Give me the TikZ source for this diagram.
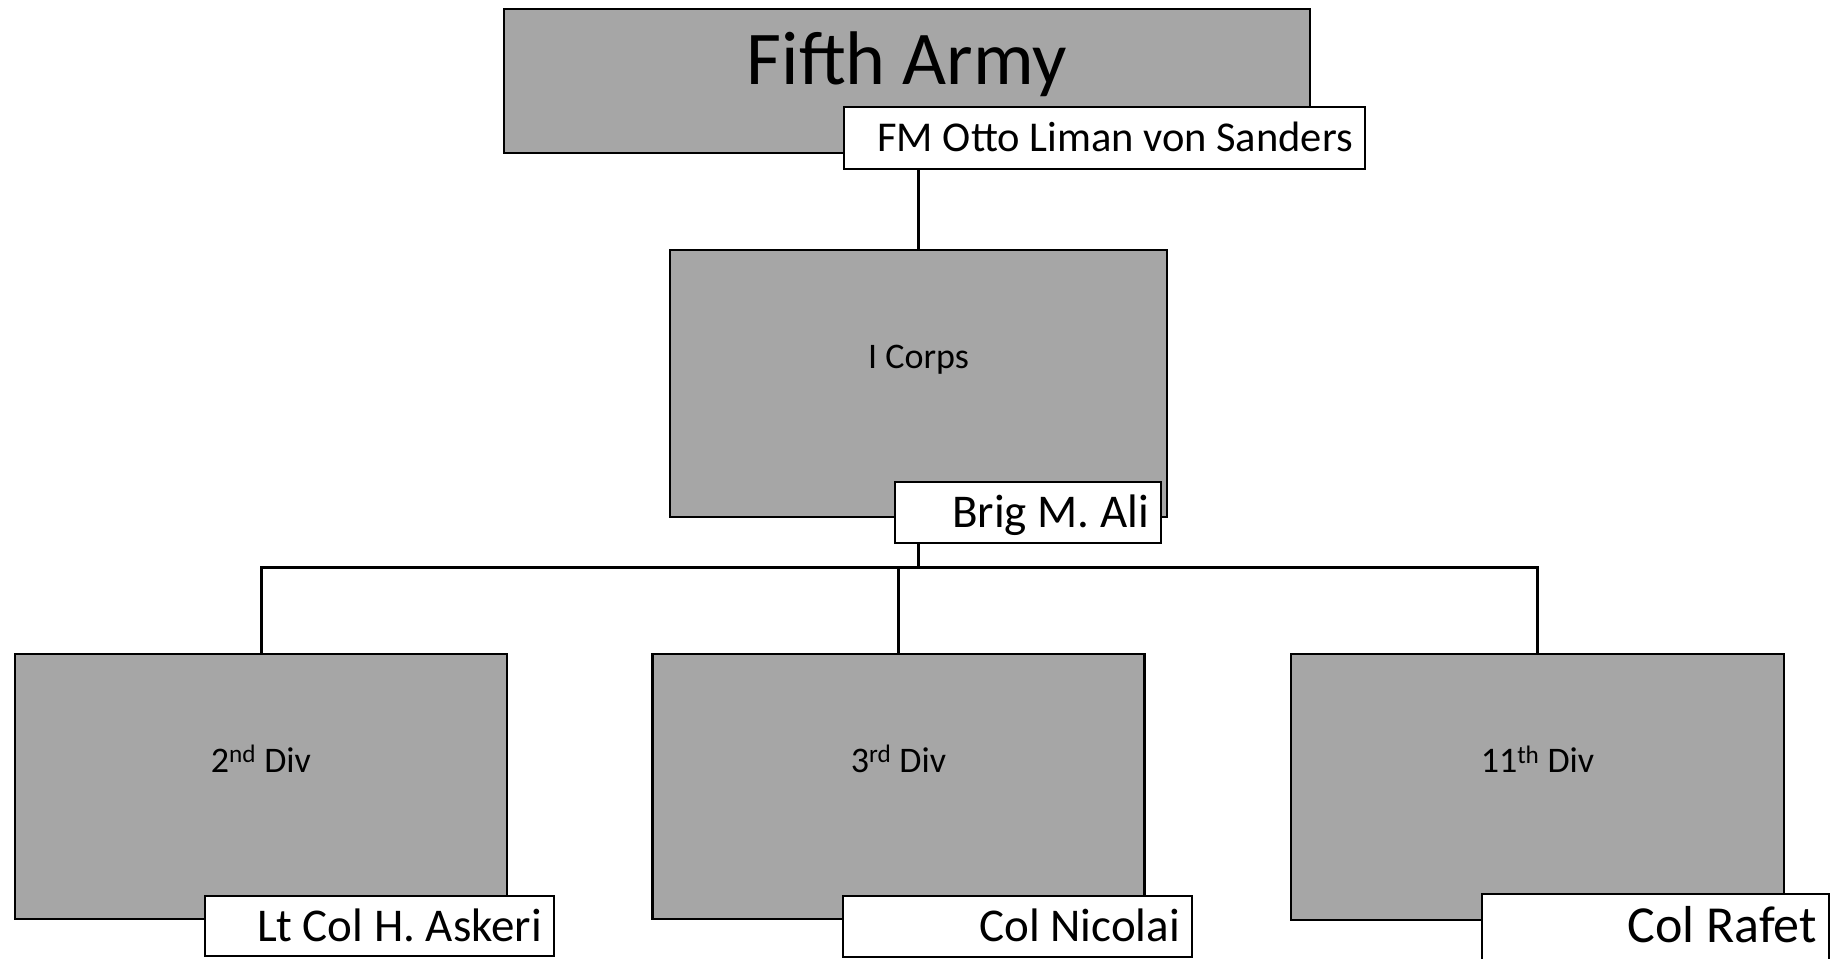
\documentclass[tikz,border=0pt]{standalone}
\usepackage{fontspec}
\setmainfont{Carlito}
\usetikzlibrary{backgrounds}
\definecolor{boxgray}{HTML}{A6A6A6}
\frenchspacing
\begin{document}
\begin{tikzpicture}[x=1pt,y=-1pt,
  graybox/.style={draw=black, line width=2.6pt, fill=boxgray, inner sep=0pt, align=center},
  namebox/.style={draw=black, line width=2.4pt, fill=white, inner ysep=0pt, inner xsep=12pt, align=flush right, text depth=0pt},
  conn/.style={draw=black, line width=3pt, line join=miter}]
\useasboundingbox (0,0) rectangle (1843,958);
\node[graybox, minimum width=806pt, minimum height=144pt, font=\fontsize{76}{90}\selectfont, text height=49pt, text depth=43pt] (army) at (907,81) {Fifth Army};
\node[namebox, minimum height=62pt, text width=497pt, font=\fontsize{42.5}{51}\selectfont, text height=27.4pt] (fm) at (1104.5,138) {FM Otto Liman von Sanders};
\node[graybox, minimum width=497pt, minimum height=267pt, font=\fontsize{36}{43}\selectfont, text height=23.2pt, text depth=54.2pt] (corps) at (918.5,383.5) {I Corps};
\node[namebox, minimum height=61pt, text width=242pt, font=\fontsize{47}{56}\selectfont, text height=30.3pt] (brig) at (1028,512.5) {Brig M. Ali};
\node[graybox, minimum width=492pt, minimum height=265pt, font=\fontsize{36}{43}\selectfont, text height=23.2pt, text depth=52.2pt] (d2) at (261,786.5) {2\textsuperscript{nd} Div};
\node[namebox, minimum height=60pt, text width=325pt, font=\fontsize{47}{56}\selectfont, text height=30.3pt] (askeri) at (379.5,926) {Lt Col H. Askeri};
\node[graybox, minimum width=492pt, minimum height=265pt, font=\fontsize{36}{43}\selectfont, text height=23.2pt, text depth=52.2pt] (d3) at (898.5,786.5) {3\textsuperscript{rd} Div};
\node[namebox, minimum height=61pt, text width=325pt, font=\fontsize{47}{56}\selectfont, text height=30.3pt] (nicolai) at (1017.5,926.5) {Col Nicolai};
\node[graybox, minimum width=493pt, minimum height=266pt, font=\fontsize{36}{43}\selectfont, text height=23.2pt, text depth=52.2pt] (d11) at (1537.5,787) {11\textsuperscript{th} Div};
\node[namebox, minimum height=96pt, text width=323pt, font=\fontsize{52}{62}\selectfont, text height=0pt] (rafet) at (1655.5,942) {Col Rafet};
\coordinate (bus) at (918.5,567);
\begin{pgfonlayer}{background}
\draw[conn] (corps.north) -- (corps.north |- fm.south);
\draw[conn] (corps.south) -- (bus);
\draw[conn] (d2.north) -- (d2.north |- bus) -- (d11.north |- bus) -- (d11.north);
\draw[conn] (d3.north) -- (d3.north |- bus);
\end{pgfonlayer}
\end{tikzpicture}
\end{document}
